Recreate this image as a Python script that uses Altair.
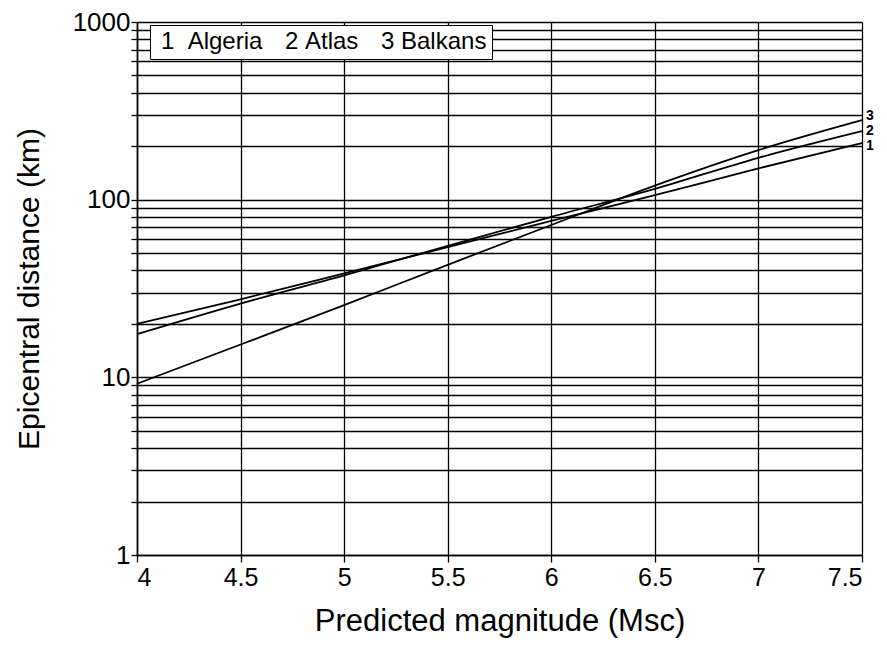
import altair as alt
import pandas as pd

# ---- data ----
magnitude = [4.0, 4.5, 5.0, 5.5, 6.0, 6.5, 7.0, 7.5]
algeria = [20, 27.5, 38.5, 54, 76, 106, 150, 208]
atlas = [17.5, 26, 37.5, 55, 80, 115, 172, 243]
balkans = [9.2, 15.3, 25.5, 43, 72, 120, 190, 280]
series_names = ["Algeria", "Atlas", "Balkans"]
series_numbers = ["1", "2", "3"]
x_ticks = [4.0, 4.5, 5.0, 5.5, 6.0, 6.5, 7.0, 7.5]
y_grid = [m * d for d in (1, 10, 100) for m in range(1, 10)] + [1000]

FONT = "Liberation Sans, Arial, Helvetica, sans-serif"

legend_labels = [f"{n}\u00a0\u00a0{s}" if n == "1" else f"{n}\u00a0{s}"
                 for n, s in zip(series_numbers, series_names)]

rows = []
for lab, num, vals in zip(legend_labels, series_numbers, [algeria, atlas, balkans]):
    for m, d in zip(magnitude, vals):
        rows.append({"magnitude": m, "distance": d, "series": lab, "num": num})
df = pd.DataFrame(rows)
ends = df[df["magnitude"] == magnitude[-1]]

xscale = alt.Scale(domain=[4, 7.5], nice=False, zero=False)
yscale = alt.Scale(type="log", domain=[1, 1000], nice=False)

grid_style = dict(grid=True, gridColor="black", gridOpacity=1, gridWidth=1.3,
                  domainColor="black", domainWidth=1.6, tickColor="black",
                  tickWidth=1.3, labelColor="black", titleColor="black",
                  labelFont=FONT, titleFont=FONT, titleFontWeight="normal")

x = alt.X(
    "magnitude:Q", scale=xscale,
    axis=alt.Axis(
        values=x_ticks, title="Predicted magnitude (Msc)",
        labelExpr="format(datum.value, '.2~f')",
        labelFontSize=25, titleFontSize=31, titlePadding=16,
        labelPadding=3, tickSize=7, **grid_style,
    ),
)
y = alt.Y(
    "distance:Q", scale=yscale,
    axis=alt.Axis(
        values=y_grid, title="Epicentral distance (km)",
        labelExpr="(datum.value == 1 || datum.value == 10 || datum.value == 100 || datum.value == 1000) ? format(datum.value, 'd') : ''",
        labelFontSize=26, titleFontSize=30, titlePadding=28,
        labelPadding=1, tickSize=6, labelOverlap=False, **grid_style,
    ),
)

lines = alt.Chart(df).mark_line(strokeWidth=1.8, interpolate="monotone").encode(
    x=x, y=y,
    color=alt.Color(
        "series:N",
        scale=alt.Scale(domain=legend_labels, range=["black", "black", "black"]),
        legend=alt.Legend(
            title=None, orient="none", legendX=13, legendY=3,
            direction="horizontal", columns=3,
            symbolSize=0, symbolOpacity=0, symbolStrokeWidth=0,
            labelOffset={"expr": "-18"}, columnPadding=16,
            labelFont=FONT, labelFontSize=24, labelColor="black", labelLimit=0,
            fillColor="white", strokeColor="black", padding=5,
        ),
    ),
    detail="series:N",
)

end_layers = []
for num, dy in zip(series_numbers, [3, 0, -4]):
    end_layers.append(
        alt.Chart(ends[ends["num"] == num]).mark_text(
            align="left", baseline="middle", dx=4, dy=dy, fontSize=14,
            fontWeight="bold", font=FONT, color="black",
        ).encode(
            x=alt.X("magnitude:Q", scale=xscale),
            y=alt.Y("distance:Q", scale=yscale),
            text="num:N",
        )
    )

chart = alt.layer(lines, *end_layers).properties(
    width=725, height=533,
    autosize=alt.AutoSizeParams(type="none"),
    padding={"left": 137, "top": 22, "right": 25, "bottom": 93},
    background="white",
).configure_view(stroke=None)

chart.save("out.html", embed_options={"renderer": "svg", "actions": False})
